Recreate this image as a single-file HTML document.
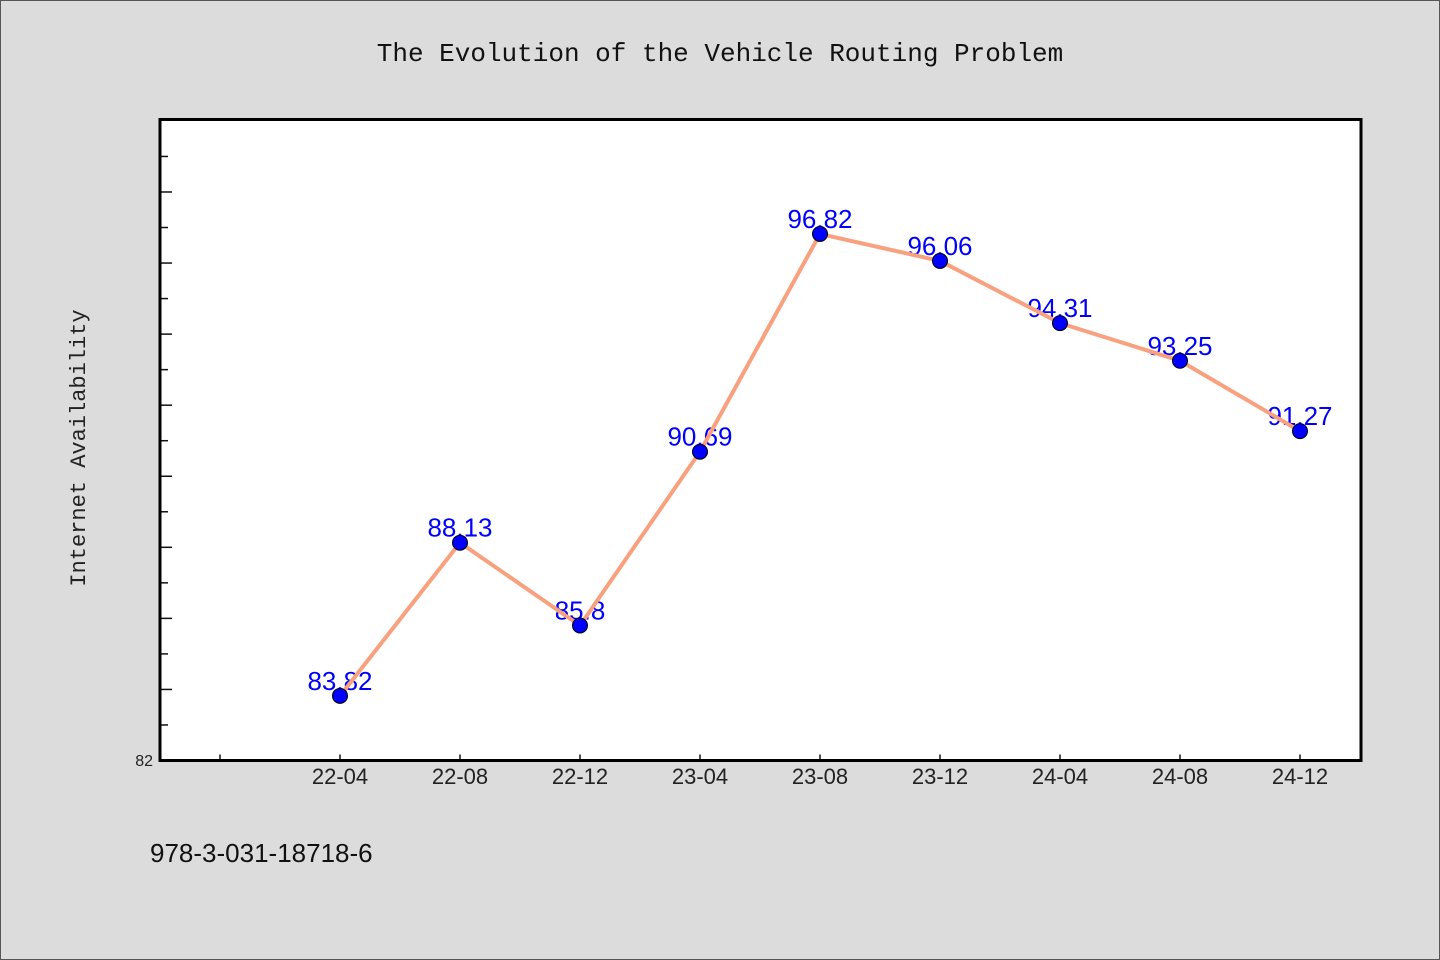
<!DOCTYPE html>
<html><head><meta charset="utf-8"><style>
html,body{margin:0;padding:0;background:#dcdcdc;}
svg{display:block;}
.mono{font-family:"Liberation Mono","DejaVu Sans Mono",monospace;}
.sans{font-family:"Liberation Sans","DejaVu Sans",sans-serif;}
</style></head><body>
<svg id="chart" width="1440" height="960" xmlns="http://www.w3.org/2000/svg">
<rect x="0.5" y="0.5" width="1439" height="959" fill="#dcdcdc" stroke="#555" stroke-width="1"/>
<text class="mono" x="720" y="61" text-anchor="middle" font-size="26" fill="#111">The Evolution of the Vehicle Routing Problem</text>
<rect x="160" y="119.5" width="1201" height="641" fill="#fff"/>
<g id="ticks"></g>
<g id="labels"></g>
<g id="series"></g>
<rect x="160" y="119.5" width="1201" height="641" fill="none" stroke="#000" stroke-width="3"/>
<text class="sans" x="153" y="766" text-anchor="end" font-size="16" fill="#222">82</text>
<text class="mono" transform="translate(85,448) rotate(-90)" text-anchor="middle" font-size="22" fill="#222">Internet Availability</text>
<text class="sans" x="150" y="862" font-size="26" fill="#111">978-3-031-18718-6</text>
</svg>
<script>
const categories = ["22-04","22-08","22-12","23-04","23-08","23-12","24-04","24-08","24-12"];
const values = [83.82, 88.13, 85.8, 90.69, 96.82, 96.06, 94.31, 93.25, 91.27];
const valueLabels = ["83.82","88.13","85.8","90.69","96.82","96.06","94.31","93.25","91.27"];
const yMin = 82, yMax = 100.04;
const NS = "http://www.w3.org/2000/svg";
const plotLeft = 160, plotRight = 1361, plotTop = 119.5, plotBottom = 760.5;
function yScale(v){ return plotBottom - (v - yMin) / (yMax - yMin) * (plotBottom - plotTop); }
function xScale(i){ return 340 + i * 120; }
function mk(tag, attrs, parent){ const e = document.createElementNS(NS, tag); for (const k in attrs) e.setAttribute(k, attrs[k]); parent.appendChild(e); return e; }
const ticksG = document.getElementById('ticks');
for (let v = yMin + 1; v <= 99; v++) {
  const y = yScale(v);
  const len = (v - yMin) % 2 === 0 ? 12 : 8;
  const t = mk('line', {x1: plotLeft, x2: plotLeft + len, y1: y, y2: y, stroke: '#111', 'stroke-width': 1.5}, ticksG);
  
  
}
for (let i = -1; i < categories.length; i++) {
  const x = xScale(i);
  const t = mk('line', {x1: x, x2: x, y1: plotBottom, y2: plotBottom - 6, stroke: '#111', 'stroke-width': 1.5}, ticksG);
  
  
  if (i >= 0) {
    const l = mk('text', {x: x, y: 784, 'text-anchor': 'middle', 'font-size': 22, fill: '#222', class: 'sans'}, ticksG);
    l.textContent = categories[i];
    
    
  }
}
const labelsG = document.getElementById('labels');
values.forEach((v, i) => {
  const t = mk('text', {x: xScale(i), y: yScale(v) - 6, 'text-anchor': 'middle', 'font-size': 26, fill: '#0000ff', class: 'sans'}, labelsG);
  t.textContent = valueLabels[i];
  
  
});
const seriesG = document.getElementById('series');
const line = mk('polyline', {points: values.map((v, i) => xScale(i) + ',' + yScale(v)).join(' '), fill: 'none', stroke: '#f9a07e', 'stroke-width': 4, 'stroke-linejoin': 'round'}, seriesG);


values.forEach((v, i) => {
  const c = mk('circle', {cx: xScale(i), cy: yScale(v), r: 7.5, fill: '#0000ff', stroke: '#000', 'stroke-width': 1}, seriesG);
  
  
});
</script>
</body></html>
